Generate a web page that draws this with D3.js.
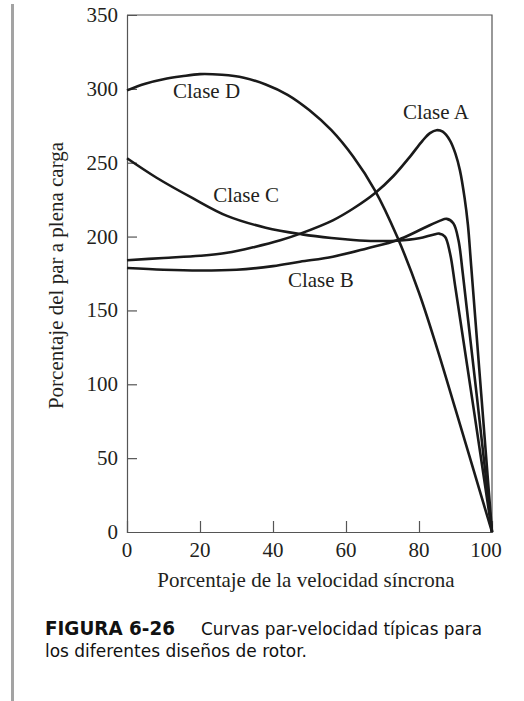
<!DOCTYPE html>
<html>
<head>
<meta charset="utf-8">
<script src="https://cdn.jsdelivr.net/npm/d3@7"></script>
<style>
  html, body { margin: 0; padding: 0; background: #fff; }
  svg { display: block; }
</style>
</head>
<body>
<svg id="chart" width="524" height="701"></svg>
<script>
// ---- data (percent of synchronous speed, percent of full-load torque) ----
const classA = [
  [0,184],[10,185.5],[20,187],[27.4,189],[35,193],[42,197.5],[47.5,202],[56.4,211],
  [62,219],[68,229.5],[73,241],[77.5,254],[81,265],[83,270],[84.8,272],[86.5,271],
  [88.5,265],[90,256],[91.2,245],[92.5,226],[93.4,208],[94.3,180],[100,0]
];
const classB = [
  [0,178.7],[10,177.5],[20,177],[30,177.5],[40,180],[47.4,183],[56.4,186.4],[65.7,192],
  [74.2,197.7],[81.2,205.6],[85.8,210.8],[87.6,212],[89.4,209],[90.8,197.7],[92,175],[100,0]
];
const classC = [
  [0,253],[8,240],[18,226],[27.4,214],[38,206],[48,201.5],[56,199],
  [62,197.7],[68,197],[74,197.2],[80,198.8],[83.9,201.3],[85.5,202],[87.1,200],
  [88.5,188.7],[90,165],[95,83],[100,0]
];
const classD = [
  [0,299],[5,303.5],[10,306.5],[15,308.5],[20,310],[26,309.5],[32,307.5],[38,303],
  [44,296],[50,285.5],[56,272],[62,254],[68,231],[74,200],[80,162],[85,124],
  [90,83],[95,41.5],[100,0]
];
const seriesNames = ["Clase A", "Clase B", "Clase C", "Clase D"];
// label anchor points in data units (x = start of text, y = baseline)
const labelX = [75.6, 44.1, 23.6, 12.6];
const labelY = [279.6, 166, 223.5, 294];

const xTicks = [0, 20, 40, 60, 80, 100];
const yTicks = [0, 50, 100, 150, 200, 250, 300, 350];
const xTitle = "Porcentaje de la velocidad síncrona";
const yTitle = "Porcentaje del par a plena carga";
const captionBold = "FIGURA 6-26";
const captionLine1 = "Curvas par-velocidad típicas para";
const captionLine2 = "los diferentes diseños de rotor.";

// ---- layout ----
const svg = d3.select("#chart");
const L = 127, T = 15, R = 492, B = 532;
const x = d3.scaleLinear().domain([0, 100]).range([L, R]);
const y = d3.scaleLinear().domain([0, 350]).range([B, T]);

const serif = "'Liberation Serif', 'Times New Roman', Times, serif";
const sans = "'DejaVu Sans', 'Open Sans', sans-serif";
const textColor = "#231f20";
const axisColor = "#555";

// left gray rule
svg.append("rect").attr("x", 11).attr("y", 4).attr("width", 3).attr("height", 697)
  .attr("fill", "#a3a3a3");

// frame (top & right)
svg.append("path")
  .attr("d", `M${L},${T}H${R}V${B}`)
  .attr("fill", "none").attr("stroke", axisColor).attr("stroke-width", 1.2);

// y axis
const yAxis = d3.axisRight(y).tickValues(yTicks).tickSize(10).tickFormat("");
const gy = svg.append("g").attr("transform", `translate(${L},0)`).call(yAxis);
gy.select(".domain").attr("stroke", axisColor).attr("stroke-width", 1.2);
gy.selectAll(".tick line").attr("stroke", axisColor).attr("stroke-width", 1.2)
  .attr("display", d => (d === 0 || d === 350) ? "none" : null);
svg.append("g").selectAll("text").data(yTicks).join("text")
  .attr("x", L - 9).attr("y", d => y(d)).attr("dy", "0.33em")
  .attr("text-anchor", "end")
  .attr("font-family", serif).attr("font-size", 21).attr("fill", textColor)
  .text(d => d);

// x axis
const xAxis = d3.axisTop(x).tickValues(xTicks).tickSize(11).tickFormat("");
const gx = svg.append("g").attr("transform", `translate(0,${B})`).call(xAxis);
gx.select(".domain").attr("stroke", axisColor).attr("stroke-width", 1.2);
gx.selectAll(".tick line").attr("stroke", axisColor).attr("stroke-width", 1.2)
  .attr("display", d => (d === 0 || d === 100) ? "none" : null);
svg.append("g").selectAll("text").data(xTicks).join("text")
  .attr("x", d => x(d) + (d === 100 ? -6 : 0)).attr("y", B + 25)
  .attr("text-anchor", "middle")
  .attr("font-family", serif).attr("font-size", 21).attr("fill", textColor)
  .text(d => d);

// axis titles
svg.append("text").attr("x", 306).attr("y", 587).attr("text-anchor", "middle")
  .attr("font-family", serif).attr("font-size", 21).attr("fill", textColor)
  .text(xTitle);
svg.append("text").attr("transform", `translate(63,${(T + B) / 2 + 2}) rotate(-90)`)
  .attr("text-anchor", "middle")
  .attr("font-family", serif).attr("font-size", 21).attr("fill", textColor)
  .text(yTitle);

// curves
const line = d3.line().x(d => x(d[0])).y(d => y(d[1])).curve(d3.curveCatmullRom.alpha(0.5));
const allSeries = [classA, classB, classC, classD];
svg.append("g").selectAll("path").data(allSeries).join("path")
  .attr("d", line)
  .attr("fill", "none").attr("stroke", "#1a1a1a").attr("stroke-width", 2.6)
  .attr("stroke-linejoin", "round");

// curve labels
svg.append("g").selectAll("text").data(seriesNames).join("text")
  .attr("x", (d, i) => x(labelX[i])).attr("y", (d, i) => y(labelY[i]))
  .attr("font-family", serif).attr("font-size", 21).attr("fill", textColor)
  .text(d => d);

// caption
svg.append("text").attr("x", 45).attr("y", 635)
  .attr("font-family", sans).attr("font-weight", 700).attr("font-size", 19)
  .attr("fill", "#111").attr("textLength", 130).attr("lengthAdjust", "spacingAndGlyphs")
  .text(captionBold);
svg.append("text").attr("x", 201).attr("y", 635)
  .attr("font-family", sans).attr("font-size", 18)
  .attr("fill", "#111").attr("textLength", 281).attr("lengthAdjust", "spacingAndGlyphs")
  .text(captionLine1);
svg.append("text").attr("x", 45).attr("y", 657)
  .attr("font-family", sans).attr("font-size", 18)
  .attr("fill", "#111").attr("textLength", 262).attr("lengthAdjust", "spacingAndGlyphs")
  .text(captionLine2);
</script>
</body>
</html>
